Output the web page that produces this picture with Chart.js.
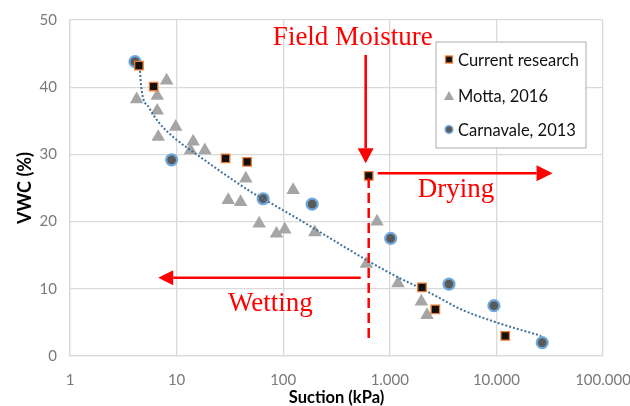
<!DOCTYPE html>
<html>
<head>
<meta charset="utf-8">
<script src="https://cdn.jsdelivr.net/npm/chart.js@4.4.1/dist/chart.umd.min.js"></script>
<style>
	html, body { margin: 0; padding: 0; background: #fff; }
	#wrap { width: 630px; height: 406px; }
</style>
</head>
<body>
<div id="wrap"><canvas id="chart" width="630" height="406"></canvas></div>
<script>
// values
const currentX = [4.43, 6.09, 28.8, 45.9, 634, 2004, 2675, 12100];
const currentY = [43.2, 40.1, 29.4, 28.9, 26.8, 10.2, 6.95, 3.0];

const mottaX = [4.22, 6.58, 6.58, 6.73, 8.06, 9.8, 14.3, 13.5, 18.4, 30.5, 39.8, 44.6, 59.5, 86.5, 103.5, 124, 198, 603, 759, 1194, 1977, 2233];
const mottaY = [38.2, 38.7, 36.5, 32.6, 41.0, 34.1, 31.9, 30.6, 30.6, 23.2, 22.9, 26.4, 19.7, 18.2, 18.8, 24.7, 18.4, 13.7, 20.0, 10.8, 8.1, 6.1];

const carnX = [4.07, 8.98, 64.8, 187, 1019, 3590, 9480, 26900];
const carnY = [43.8, 29.2, 23.4, 22.6, 17.5, 10.7, 7.5, 2.0];

const trendX = [4.5, 4.7, 5.5, 6.7, 9.6, 14.8, 49, 64.6, 138, 417, 603, 1230, 1995, 2951, 4571, 10000, 26300];
const trendY = [43.0, 39.5, 37.0, 34.9, 32.4, 30.2, 24.5, 23.4, 20.4, 15.8, 14.3, 11.6, 10.0, 8.6, 7.0, 5.0, 3.0];

const xTicks = [1, 10, 100, 1000, 10000, 100000];
const xTickLabels = ['1', '10', '100', '1.000', '10.000', '100.000'];

const seriesNames = ['Current research', 'Motta, 2016', 'Carnavale, 2013'];

// annotation anchors (data units)
const fieldMoisture = {x: 634, yTop: 26.5, yBottom: 2.4};
const downArrow = {x: 594, yFrom: 44.8, yTo: 28.7};
const dryingArrow = {y: 27.2, xFrom: 770, xTo: 33650};
const wettingArrow = {y: 11.65, xFrom: 534, xTo: 6.72};
const labels = [
	{text: 'Field Moisture', x: 80, y: 46.3},
	{text: 'Drying', x: 1825, y: 23.7},
	{text: 'Wetting', x: 30.3, y: 6.7},
];

const red = '#ff0000';
const gridColor = '#d9d9d9';
const tickColor = '#7a7a7a';

function toPoints(xs, ys) {
	return xs.map((x, i) => ({x: x, y: ys[i]}));
}

function arrow(ctx, x1, y1, x2, y2, headLen, halfW) {
	const ang = Math.atan2(y2 - y1, x2 - x1);
	const bx = x2 - Math.cos(ang) * headLen;
	const by = y2 - Math.sin(ang) * headLen;
	ctx.beginPath();
	ctx.moveTo(x1, y1);
	ctx.lineTo(bx, by);
	ctx.stroke();
	ctx.beginPath();
	ctx.moveTo(x2, y2);
	ctx.lineTo(bx - Math.sin(ang) * halfW, by + Math.cos(ang) * halfW);
	ctx.lineTo(bx + Math.sin(ang) * halfW, by - Math.cos(ang) * halfW);
	ctx.closePath();
	ctx.fill();
}

const annotationPlugin = {
	id: 'annotations',
	afterDatasetsDraw(chart) {
		const ctx = chart.ctx;
		const xs = chart.scales.x;
		const ys = chart.scales.y;
		ctx.save();
		ctx.strokeStyle = red;
		ctx.fillStyle = red;

		// dashed line below the field moisture point
		ctx.lineWidth = 2.5;
		ctx.setLineDash([10, 5]);
		ctx.beginPath();
		ctx.moveTo(xs.getPixelForValue(fieldMoisture.x), ys.getPixelForValue(fieldMoisture.yTop));
		ctx.lineTo(xs.getPixelForValue(fieldMoisture.x), ys.getPixelForValue(fieldMoisture.yBottom));
		ctx.stroke();
		ctx.setLineDash([]);

		ctx.lineWidth = 2.6;
		arrow(ctx, xs.getPixelForValue(downArrow.x), ys.getPixelForValue(downArrow.yFrom),
			xs.getPixelForValue(downArrow.x), ys.getPixelForValue(downArrow.yTo), 15, 8);
		arrow(ctx, xs.getPixelForValue(dryingArrow.xFrom), ys.getPixelForValue(dryingArrow.y),
			xs.getPixelForValue(dryingArrow.xTo), ys.getPixelForValue(dryingArrow.y), 16, 8);
		arrow(ctx, xs.getPixelForValue(wettingArrow.xFrom), ys.getPixelForValue(wettingArrow.y),
			xs.getPixelForValue(wettingArrow.xTo), ys.getPixelForValue(wettingArrow.y), 15, 7.5);

		ctx.font = '27px "Liberation Serif", "Times New Roman", serif';
		ctx.textAlign = 'left';
		ctx.textBaseline = 'alphabetic';
		labels.forEach(l => {
			ctx.fillText(l.text, xs.getPixelForValue(l.x), ys.getPixelForValue(l.y));
		});
		ctx.restore();
	}
};

const legendPlugin = {
	id: 'legendBox',
	afterDraw(chart) {
		const ctx = chart.ctx;
		const area = chart.chartArea;
		const left = area.right - 167;
		const top = area.top + 22;
		ctx.save();
		ctx.fillStyle = '#ffffff';
		ctx.strokeStyle = '#bfbfbf';
		ctx.lineWidth = 1.3;
		ctx.fillRect(left, top, 150, 106);
		ctx.strokeRect(left, top, 150, 106);

		const mx = left + 13;
		const rows = [top + 17.5, top + 54, top + 87.5];

		// square
		ctx.fillStyle = '#111111';
		ctx.strokeStyle = '#ed7d31';
		ctx.lineWidth = 1.3;
		ctx.fillRect(mx - 3.5, rows[0] - 3.5, 7, 7);
		ctx.strokeRect(mx - 3.5, rows[0] - 3.5, 7, 7);

		// triangle
		ctx.fillStyle = '#a5a5a5';
		ctx.beginPath();
		ctx.moveTo(mx, rows[1] - 5);
		ctx.lineTo(mx + 5, rows[1] + 4);
		ctx.lineTo(mx - 5, rows[1] + 4);
		ctx.closePath();
		ctx.fill();

		// circle
		ctx.fillStyle = '#5a5a5a';
		ctx.strokeStyle = '#6fa8dc';
		ctx.lineWidth = 1.6;
		ctx.beginPath();
		ctx.arc(mx, rows[2], 3.8, 0, Math.PI * 2);
		ctx.fill();
		ctx.stroke();

		ctx.fillStyle = '#111111';
		ctx.font = '16.5px Lato, sans-serif';
		ctx.textAlign = 'left';
		ctx.textBaseline = 'middle';
		seriesNames.forEach((name, i) => {
			ctx.fillText(name, left + 22, rows[i] + 1);
		});
		ctx.restore();
	}
};

new Chart(document.getElementById('chart'), {
	type: 'scatter',
	data: {
		datasets: [
			{
				label: seriesNames[0],
				data: toPoints(currentX, currentY),
				pointStyle: 'rect',
				pointRadius: 6,
				backgroundColor: '#111111',
				borderColor: '#ed7d31',
				borderWidth: 1.3,
				order: 0,
			},
			{
				label: 'trend',
				data: toPoints(trendX, trendY),
				showLine: true,
				pointRadius: 0,
				borderColor: '#41719c',
				borderWidth: 2,
				borderDash: [2, 2],
				cubicInterpolationMode: 'monotone',
				fill: false,
				order: 1,
			},
			{
				label: seriesNames[2],
				data: toPoints(carnX, carnY),
				pointStyle: 'circle',
				pointRadius: 5.5,
				backgroundColor: '#5a5a5a',
				borderColor: '#6fa8dc',
				borderWidth: 2.2,
				order: 2,
			},
			{
				label: seriesNames[1],
				data: toPoints(mottaX, mottaY),
				pointStyle: 'triangle',
				pointRadius: 7.8,
				backgroundColor: '#a5a5a5',
				borderColor: '#a5a5a5',
				borderWidth: 0,
				order: 3,
			},
		]
	},
	options: {
		responsive: false,
		animation: false,
		layout: {padding: {left: 0, right: 27, top: 20, bottom: 0}},
		plugins: {
			legend: {display: false},
			tooltip: {enabled: false},
		},
		scales: {
			x: {
				type: 'logarithmic',
				min: 1,
				max: 100000,
				afterBuildTicks: (scale) => {
					scale.ticks = xTicks.map(v => ({value: v}));
				},
				afterFit: (scale) => {
					scale.height = 50;
					scale.paddingLeft = 0;
					scale.paddingRight = 0;
				},
				grid: {color: gridColor, lineWidth: 1.3, drawTicks: false},
				border: {color: gridColor, width: 1.3},
				ticks: {
					padding: 15,
					color: tickColor,
					autoSkip: false,
					maxRotation: 0,
					font: {family: 'Lato', size: 15},
					callback: (value, index) => xTickLabels[index],
				},
				title: {
					display: true,
					text: 'Suction (kPa)',
					color: '#000000',
					font: {family: 'Lato', size: 16.5, weight: 'bold'},
					padding: {top: 0, bottom: -2},
				},
			},
			y: {
				min: 0,
				max: 50,
				afterFit: (scale) => {
					scale.width = 70;
					scale.paddingTop = 0;
					scale.paddingBottom = 0;
				},
				grid: {color: gridColor, lineWidth: 1.3, drawTicks: false},
				border: {color: gridColor, width: 1.3},
				ticks: {
					stepSize: 10,
					padding: 13,
					color: tickColor,
					font: {family: 'Lato', size: 15},
				},
				title: {
					display: true,
					text: 'VWC (%)',
					color: '#000000',
					font: {family: 'Lato', size: 18, weight: 'bold'},
					padding: {top: 14, bottom: 0},
				},
			},
		},
	},
	plugins: [annotationPlugin, legendPlugin],
});
</script>
</body>
</html>
